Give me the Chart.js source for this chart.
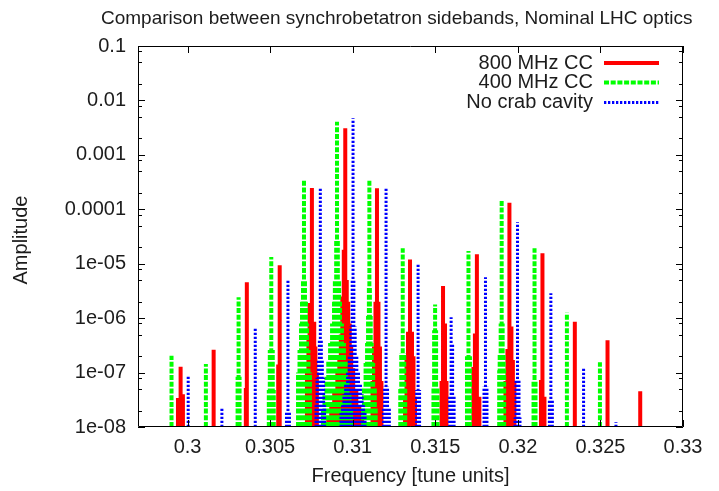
<!DOCTYPE html>
<html><head><meta charset="utf-8">
<script src="https://cdn.jsdelivr.net/npm/chart.js@4.4.1/dist/chart.umd.min.js"></script>
<style>html,body{margin:0;padding:0;background:#fff;}#wrap{width:719px;height:491px;}</style>
</head><body><div id="wrap"><canvas id="c" width="719" height="491" style="width:719px;height:491px"></canvas></div>
<script>
const chartTitle = "Comparison between synchrobetatron sidebands, Nominal LHC optics";
const xAxisTitle = "Frequency [tune units]";
const yAxisTitle = "Amplitude";
const seriesNames = ["800 MHz CC", "400 MHz CC", "No crab cavity"];

const xTicks = [0.3, 0.305, 0.31, 0.315, 0.32, 0.325, 0.33];
const xTickLabels = ["0.3", "0.305", "0.31", "0.315", "0.32", "0.325", "0.33"];
const yTicks = [1e-8, 1e-7, 1e-6, 1e-5, 1e-4, 1e-3, 1e-2, 1e-1];
const yTickLabels = ["1e-08", "1e-07", "1e-06", "1e-05", "0.0001", "0.001", "0.01", "0.1"];
const yMinorTicks = [2e-8,5e-8,8e-8,2e-7,5e-7,8e-7,2e-6,5e-6,8e-6,2e-5,5e-5,8e-5,2e-4,5e-4,8e-4,2e-3,5e-3,8e-3,2e-2,5e-2,8e-2];

// 800 MHz CC
const cc800MainFreq = [0.29958,0.30158,0.30359,0.30558,0.30753,0.30955,0.31147,0.31347,0.31547,0.31752,0.31949,0.32149,0.32345,0.32543,0.32741];
const cc800MainAmp  = [1.28e-7,2.63e-7,4.55e-6,9.35e-6,2.46e-4,3.07e-3,2.44e-4,1.2e-5,3.89e-6,1.49e-5,1.32e-4,1.55e-5,8.6e-7,3.92e-7,4.53e-8];
const cc800FineFreq = [0.29942,0.29972,0.30353,0.30549,
  0.30739,0.30767,0.30732,0.30774,0.30723,0.30783,
  0.30946,0.30964,0.30937,0.30973,0.30982,0.30928,0.30991,0.30919,0.31003,0.30907,0.31022,0.30888,0.3104,0.3087,0.30852,0.31058,
  0.31138,0.31156,0.31129,0.31165,0.3112,0.31174,
  0.31335,0.31359,0.31326,0.31368,0.31317,0.31377,
  0.31559,0.31568,0.31538,
  0.3174,0.31731,0.31767,
  0.31961,0.31937,0.3197,0.31925,0.31979,
  0.3214,0.32161];
const cc800FineAmp  = [3.4e-8,4e-8,5.2e-8,1.4e-7,
  1.9e-6,8.6e-7,4.6e-7,3e-7,1e-7,1e-7,
  1.8e-5,5e-6,2.5e-6,2e-6,8e-7,5e-7,3e-7,2e-7,1.2e-7,1e-7,5e-8,5e-8,2.5e-8,2.5e-8,1.5e-8,1.5e-8,
  2e-6,2e-6,3e-7,3e-7,7e-8,7e-8,
  5.6e-7,5.6e-7,2e-7,2e-7,3.6e-8,3.6e-8,
  8e-7,7e-8,7e-8,
  5.2e-7,1.27e-7,3.6e-8,
  7e-7,2.7e-7,1.7e-7,7e-8,7e-8,
  7.3e-8,3.6e-8];

// 400 MHz CC
const cc400MainFreq = [0.29903,0.30111,0.30309,0.30507,0.30705,0.30905,0.31101,0.31303,0.31499,0.31701,0.31902,0.32101,0.32297,0.32497];
const cc400MainAmp  = [2.04e-7,1.44e-7,2.41e-6,1.33e-5,3.45e-4,4.06e-3,3.45e-4,1.92e-5,1.79e-6,1.71e-5,1.48e-4,1.92e-5,1.26e-6,1.54e-7];
const cc400FineFreq = [0.30303,0.30315,
  0.30498,0.30516,0.30492,0.30522,
  0.30699,0.30711,0.30693,0.30717,0.30687,0.30723,0.30678,0.30732,0.30669,0.30741,
  0.309,0.3091,0.30892,0.30918,0.30887,0.30923,0.30875,0.30935,0.30863,0.30947,0.30852,0.30958,0.30841,0.30969,0.30829,0.30981,0.3082,0.3099,
  0.31098,0.31104,0.31093,0.31109,0.31087,0.31115,0.31078,0.31124,0.31068,0.31134,0.31063,0.31139,
  0.31294,0.31312,0.31288,0.31318,
  0.31493,0.31505,0.31489,0.31514,
  0.31692,0.3171,
  0.31896,0.31908,0.3189,0.31914,0.31887,0.31917,
  0.32095,0.32107];
const cc400FineAmp  = [8.4e-8,8.4e-8,
  2.6e-7,2.6e-7,4.8e-8,4.8e-8,
  5e-6,5e-6,2e-6,2e-6,8e-7,8e-7,2.6e-7,2.6e-7,1e-7,1e-7,
  2.7e-5,2.7e-5,5e-6,5e-6,2e-6,2e-6,8e-7,8e-7,3.5e-7,3.5e-7,1.7e-7,1.7e-7,8.4e-8,8.4e-8,4.2e-8,4.2e-8,2e-8,2e-8,
  3.8e-6,3.8e-6,1.1e-6,1.1e-6,3.5e-7,3.5e-7,1.5e-7,1.5e-7,5.5e-8,5.5e-8,2.3e-8,2.3e-8,
  2.3e-7,2.3e-7,5e-8,5e-8,
  6e-7,6e-7,5.5e-8,5.5e-8,
  2e-7,2e-7,
  8e-7,8e-7,2.2e-7,2.2e-7,1.1e-7,1.1e-7,
  7e-8,7e-8];

// No crab cavity
const noCCMainFreq = [0.30004,0.30208,0.3041,0.30608,0.30804,0.31002,0.31202,0.31396,0.31596,0.31804,0.31998,0.322,0.32398,0.32594];
const noCCMainAmp  = [8.4e-8,2.33e-8,6.79e-7,5.17e-6,2.46e-4,4.69e-3,2.44e-4,1.02e-5,1.04e-6,5.62e-6,5.77e-5,2.86e-6,1.2e-7,1.22e-8];
const noCCFineFreq = [0.30599,0.30617,
  0.30798,0.3081,0.30792,0.30816,0.30784,0.30824,0.30778,0.3083,
  0.30997,0.31007,0.30989,0.31015,0.30979,0.31025,0.30969,0.31035,0.30957,0.31047,0.30947,0.31057,0.30938,0.31066,0.30929,0.31075,
  0.31193,0.31211,0.31187,0.31222,
  0.31387,0.31405,
  0.31605,0.31587,0.31614,
  0.31795,0.31813,
  0.31989,0.32007,0.31983,0.32013,
  0.32191,0.32209];
const noCCFineAmp  = [1.9e-8,1.9e-8,
  4e-7,4e-7,1.7e-7,1.7e-7,8e-8,8e-8,2.5e-8,2.5e-8,
  5e-6,5e-6,7e-7,7e-7,2e-7,2e-7,1e-7,1e-7,6e-8,6e-8,4e-8,4e-8,2.5e-8,2.5e-8,1.8e-8,1.8e-8,
  5.5e-8,5.5e-8,2.2e-8,2.2e-8,
  4.8e-8,4.8e-8,
  3.3e-7,3.6e-8,3.6e-8,
  5.5e-8,5.5e-8,
  7.3e-8,7.3e-8,1.5e-8,1.5e-8,
  3.1e-8,3.1e-8];

const Y_MIN = 1e-8, Y_MAX = 0.1, X_MIN = 0.297, X_MAX = 0.33;

function impulses(freqLists, ampLists) {
  const pts = [];
  freqLists.forEach((fl, k) => fl.forEach((f, i) => {
    pts.push({x: f, y: Y_MIN}, {x: f, y: ampLists[k][i]}, {x: f, y: null});
  }));
  return pts;
}

const FONT = "'Liberation Sans', Arial, sans-serif";
const TXT = '#1c1c1c';
Chart.defaults.font.family = FONT;

const styles = [
  {color: '#ff0000', width: 4, dash: []},
  {color: '#00ff00', width: 4, dash: [5, 1.7]},
  {color: '#0000ff', width: 3, dash: [2.3, 1.7]}
];

const framePlugin = {
  id: 'frame',
  afterDraw(chart) {
    const {ctx, chartArea: a, scales: {x, y}} = chart;
    ctx.save();
    ctx.strokeStyle = '#000';
    ctx.lineWidth = 1;
    ctx.beginPath();
    ctx.rect(a.left + 0.5, a.top + 0.5, a.right - a.left - 1, a.bottom - a.top - 1);
    ctx.stroke();
    ctx.beginPath();
    xTicks.forEach(v => {
      const px = Math.round(x.getPixelForValue(v)) + 0.5;
      ctx.moveTo(px, a.bottom); ctx.lineTo(px, a.bottom - 7);
      ctx.moveTo(px, a.top); ctx.lineTo(px, a.top + 7);
    });
    yTicks.forEach(v => {
      const py = Math.round(y.getPixelForValue(v)) + 0.5;
      ctx.moveTo(a.left, py); ctx.lineTo(a.left + 7, py);
      ctx.moveTo(a.right, py); ctx.lineTo(a.right - 7, py);
    });
    yMinorTicks.forEach(v => {
      const py = Math.round(y.getPixelForValue(v)) + 0.5;
      ctx.moveTo(a.left, py); ctx.lineTo(a.left + 4, py);
      ctx.moveTo(a.right, py); ctx.lineTo(a.right - 4, py);
    });
    ctx.stroke();

    ctx.fillStyle = TXT;
    ctx.font = '19px ' + FONT;
    ctx.textAlign = 'left';
    ctx.textBaseline = 'middle';
    ctx.fillText(chartTitle, 101, 19);

    ctx.font = '20px ' + FONT;
    ctx.textAlign = 'center';
    ctx.fillText(xAxisTitle, (a.left + a.right) / 2, 476);
    ctx.save();
    ctx.translate(21, 240);
    ctx.rotate(-Math.PI / 2);
    ctx.fillText(yAxisTitle, 0, 0);
    ctx.restore();

    // legend
    const rows = [63, 82.5, 102.5];
    seriesNames.forEach((name, i) => {
      ctx.fillStyle = TXT;
      ctx.textAlign = 'right';
      ctx.fillText(name, 593, rows[i]);
      ctx.beginPath();
      ctx.strokeStyle = styles[i].color;
      ctx.lineWidth = styles[i].width;
      ctx.setLineDash(styles[i].dash);
      ctx.moveTo(604, rows[i]); ctx.lineTo(659, rows[i]);
      ctx.stroke();
      ctx.setLineDash([]);
    });
    ctx.restore();
  }
};

const mk = (i, data, order) => ({
  label: seriesNames[i], data, showLine: true, spanGaps: false,
  borderColor: styles[i].color, backgroundColor: styles[i].color,
  borderWidth: styles[i].width, borderDash: styles[i].dash, borderCapStyle: 'butt',
  pointRadius: 0, pointHoverRadius: 0, tension: 0, order
});

new Chart(document.getElementById('c'), {
  type: 'scatter',
  data: {datasets: [
    mk(0, impulses([cc800FineFreq, cc800MainFreq], [cc800FineAmp, cc800MainAmp]), 3),
    mk(1, impulses([cc400FineFreq, cc400MainFreq], [cc400FineAmp, cc400MainAmp]), 2),
    mk(2, impulses([noCCFineFreq, noCCMainFreq], [noCCFineAmp, noCCMainAmp]), 1)
  ]},
  options: {
    responsive: false, animation: false, devicePixelRatio: 1, events: [],
    layout: {padding: {left: 0, right: 36, top: 46, bottom: 0}},
    plugins: {legend: {display: false}, tooltip: {enabled: false}, title: {display: false}},
    scales: {
      x: {
        type: 'linear', min: X_MIN, max: X_MAX,
        afterFit(s) { s.height = 64; },
        afterBuildTicks(s) { s.ticks = xTicks.map(v => ({value: v})); },
        ticks: {callback: (v, i) => xTickLabels[i], padding: 8, color: TXT, font: {size: 20, family: FONT}, maxRotation: 0, autoSkip: false},
        grid: {display: false, drawTicks: false}, border: {display: false}
      },
      y: {
        type: 'logarithmic', min: Y_MIN, max: Y_MAX,
        afterFit(s) { s.width = 138; },
        afterBuildTicks(s) { s.ticks = yTicks.map(v => ({value: v})); },
        ticks: {callback: (v, i) => yTickLabels[i], padding: 12, color: TXT, font: {size: 20, family: FONT}, autoSkip: false},
        grid: {display: false, drawTicks: false}, border: {display: false}
      }
    }
  },
  plugins: [framePlugin]
});
</script></body></html>
